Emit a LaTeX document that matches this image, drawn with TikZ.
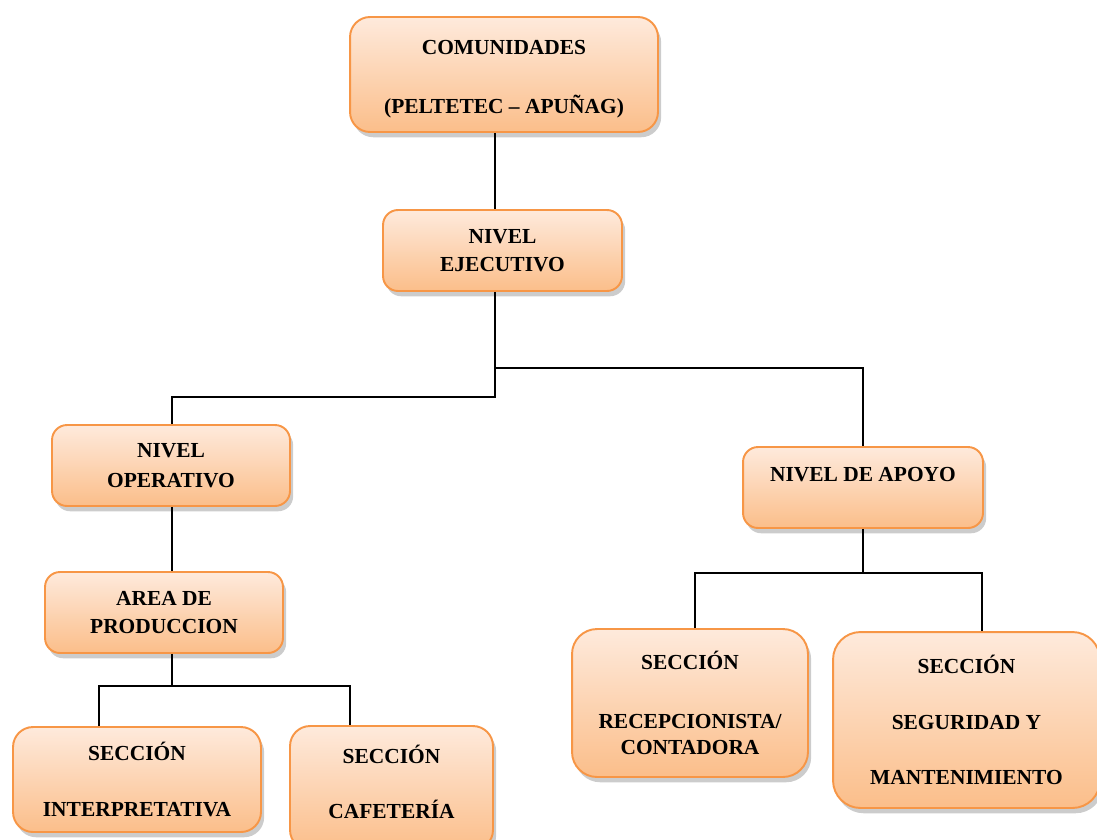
\documentclass[tikz,border=0pt]{standalone}
\usepackage{fontspec}
\setmainfont{Liberation Serif}
\usepackage{xcolor}
\usepackage{tikz}
\usetikzlibrary{shadows, calc}

\definecolor{boxtop}{HTML}{FEEADC}
\definecolor{boxbot}{HTML}{FBBE8A}
\definecolor{boxline}{HTML}{F79646}

\begin{document}
\begin{tikzpicture}[x=0.02cm, y=-0.02cm,
    orgbox/.style={draw=boxline, line width=1.1pt, top color=boxtop, bottom color=boxbot,
        rounded corners=0.3cm, align=center, font=\fontsize{12.2}{14.6}\selectfont\bfseries,
        drop shadow={shadow xshift=1.8pt, shadow yshift=-3pt, opacity=0.4}},
    link/.style={draw=black, line width=0.9pt}]
    \useasboundingbox (0,0) rectangle (1097,839);
            \node [orgbox, minimum width=6.16cm, minimum height=2.3cm, rounded corners=0.4cm, text height=47.3pt] (com) at (504,74.5) {COMUNIDADES\\[19pt](PELTETEC – APUÑAG)};
            \node [orgbox, minimum width=4.78cm, minimum height=1.62cm] (eje) at (502.5,250.5) {NIVEL\\[1.3pt]EJECUTIVO};
            \node [orgbox, minimum width=4.76cm, minimum height=1.62cm] (ope) at (171,465.5) {NIVEL\\[2.4pt]OPERATIVO};
            \node [orgbox, minimum width=4.8cm, minimum height=1.62cm, text height=8pt, text depth=14.6pt] (apo) at (863,487.5) {NIVEL DE APOYO};
            \node [orgbox, minimum width=4.76cm, minimum height=1.62cm] (pro) at (164,612.5) {AREA DE\\[1.3pt]PRODUCCION};
            \node [orgbox, minimum width=4.96cm, minimum height=2.1cm, rounded corners=0.4cm] (int) at (137,779.5) {SECCIÓN\\[17pt]INTERPRETATIVA};
            \node [orgbox, minimum width=4.06cm, minimum height=2.48cm, rounded corners=0.4cm, text depth=6.8pt] (caf) at (391.5,788) {SECCIÓN\\[16.6pt]CAFETERÍA};
            \node [orgbox, minimum width=4.72cm, minimum height=2.96cm, rounded corners=0.5cm] (rec) at (690,703) {SECCIÓN\\[19pt]RECEPCIONISTA/\\CONTADORA};
            \node [orgbox, minimum width=5.34cm, minimum height=3.52cm, rounded corners=0.55cm] (seg) at (966.5,720) {SECCIÓN\\[17pt]SEGURIDAD Y\\[17pt]MANTENIMIENTO};
            \coordinate (jA) at (495,368);
            \coordinate (jB) at (495,397);
            \coordinate (jC) at (172,686);
            \coordinate (jCl) at (99,686);
            \coordinate (jCr) at (350,686);
            \coordinate (jD) at (863,573);
            \coordinate (jDl) at (695,573);
            \coordinate (jDr) at (982,573);
            \draw [link] (com.south -| jA) -- (eje.north -| jA);
            \draw [link] (eje.south -| jA) -- (jB) -- (jB -| jC) -- (ope.north -| jC);
            \draw [link] (jA) -| (apo.north);
            \draw [link] (ope.south -| jC) -- (pro.north -| jC);
            \draw [link] (pro.south -| jC) -- (jC);
            \draw [link] (int.north -| jCl) |- (jCr) -- (caf.north -| jCr);
            \draw [link] (apo.south) -- (jD);
            \draw [link] (rec.north -| jDl) |- (jDr) -- (seg.north -| jDr);
        \end{tikzpicture}
\end{document}
